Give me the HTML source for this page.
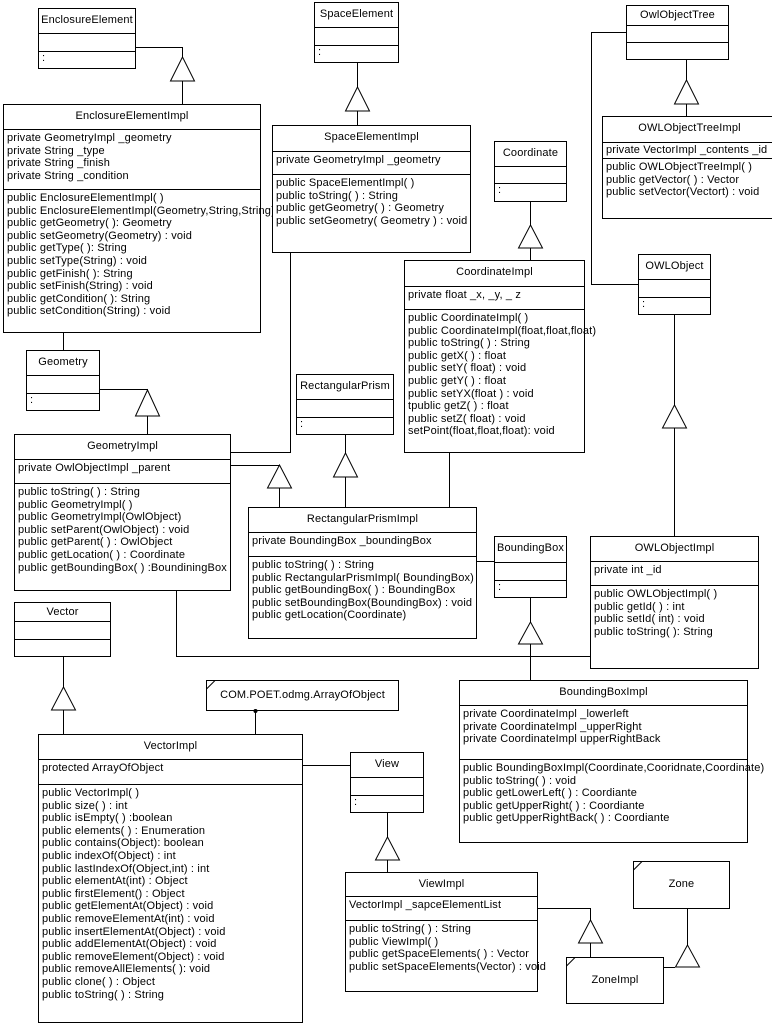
<!DOCTYPE html>
<html><head><meta charset="utf-8"><style>
html,body{margin:0;padding:0;background:#fff;}
body{width:772px;height:1024px;position:relative;overflow:hidden;font-family:"Liberation Sans",sans-serif;font-size:11px;letter-spacing:0.15px;color:#000;}
.b{position:absolute;box-sizing:border-box;border:1px solid #000;background:#fff;}
.s{position:absolute;left:0;right:0;box-sizing:border-box;white-space:nowrap;padding-left:3px;line-height:12.6px;}
.n{text-align:center;padding:5px 0 0 0;}
.t{border-top:1px solid #000;}
.nt{position:absolute;box-sizing:border-box;border:1px solid #000;background:#fff;text-align:center;white-space:nowrap;}
svg{position:absolute;left:0;top:0;}
</style></head><body>
<svg width="772" height="1024" viewBox="0 0 772 1024" fill="none" stroke="#000" stroke-width="1">
<g shape-rendering="crispEdges">
<path d="M135.5,47.5H182.5V57.5M182.5,81V104"/>
<path d="M63.5,332V350"/>
<path d="M357.5,62V87M357.5,111V125"/>
<path d="M290.5,252V452.5H230"/>
<path d="M626,32.5H591.5V284.5H638"/>
<path d="M686.5,59V80M686.5,104V116"/>
<path d="M530.5,201V225M530.5,248V260"/>
<path d="M449.5,452V507"/>
<path d="M674.5,314V405M674.5,428V536"/>
<path d="M99,389.5H147.5V390M147.5,416V434"/>
<path d="M230,465.5H279.5M279.5,488V507"/>
<path d="M345.5,434V453M345.5,477V507"/>
<path d="M476,561.5H494"/>
<path d="M176.5,590V656.5H590"/>
<path d="M530.5,597V622M530.5,644V680"/>
<path d="M63.5,656V687M63.5,710V734"/>
<path d="M255.5,710V734"/>
<path d="M302,765.5H350"/>
<path d="M387.5,812V837M387.5,860V872"/>
<path d="M537,908.5H590.5V920M590.5,943V957"/>
<path d="M687.5,908V945M663,967.5H675"/>
</g>
<g stroke-linejoin="miter">
<path d="M182.5,57L170.5,81H194.5Z"/>
<path d="M357.5,87L345.5,111H369.5Z"/>
<path d="M686.5,80L674.5,104H698.5Z"/>
<path d="M530.5,225L518.5,248H542.5Z"/>
<path d="M674.5,405L662.5,428H686.5Z"/>
<path d="M147.5,390L135.5,416H159.5Z"/>
<path d="M279.5,465L267.5,488H291.5Z"/>
<path d="M345.5,453L333.5,477H357.5Z"/>
<path d="M530.5,622L518.5,644H542.5Z"/>
<path d="M63.5,687L51.5,710H75.5Z"/>
<path d="M387.5,837L375.5,860H399.5Z"/>
<path d="M590.5,920L578.5,943H602.5Z"/>
<path d="M687.5,945L675.5,967H699.5Z"/>
</g>
</svg>

<div class="b" style="left:38px;top:8px;width:98px;height:61px">
<div class="s n" style="top:0;height:24px">EnclosureElement</div>
<div class="s t" style="top:24px;height:18px"></div>
<div class="s t" style="top:42px;height:18px">:</div>
</div>

<div class="b" style="left:3px;top:104px;width:258px;height:229px">
<div class="s n" style="top:0;height:24px">EnclosureElementImpl</div>
<div class="s t" style="top:24px;height:60px;padding-top:2px">private GeometryImpl _geometry<br>private String _type<br>private String _finish<br>private String _condition</div>
<div class="s t" style="top:84px;height:144px;padding-top:2px">public EnclosureElementImpl( )<br>public EnclosureElementImpl(Geometry,String,String)<br>public getGeometry( ): Geometry<br>public setGeometry(Geometry) :  void<br>public getType( ): String<br>public setType(String) : void<br>public getFinish( ): String<br>public setFinish(String) : void<br>public getCondition( ): String<br>public setCondition(String) : void</div>
</div>

<div class="b" style="left:314px;top:2px;width:85px;height:61px">
<div class="s n" style="top:0;height:24px">SpaceElement</div>
<div class="s t" style="top:24px;height:18px"></div>
<div class="s t" style="top:42px;height:18px">:</div>
</div>

<div class="b" style="left:272px;top:125px;width:199px;height:128px">
<div class="s n" style="top:0;height:25px">SpaceElementImpl</div>
<div class="s t" style="top:25px;height:23px;padding-top:2px">private GeometryImpl _geometry</div>
<div class="s t" style="top:48px;height:79px;padding-top:2px">public SpaceElementImpl( )<br>public toString( ) : String<br>public getGeometry( ) : Geometry<br>public setGeometry( Geometry ) : void</div>
</div>

<div class="b" style="left:626px;top:5px;width:103px;height:55px">
<div class="s n" style="top:0;height:19px;padding-top:3px">OwlObjectTree</div>
<div class="s t" style="top:19px;height:17px"></div>
<div class="s t" style="top:36px;height:18px"></div>
</div>

<div class="b" style="left:602px;top:116px;width:175px;height:103px">
<div class="s n" style="top:0;height:25px">OWLObjectTreeImpl</div>
<div class="s t" style="top:25px;height:16px;padding-top:1px">private VectorImpl _contents _id</div>
<div class="s t" style="top:41px;height:61px;padding-top:2px">public OWLObjectTreeImpl( )<br>public  getVector( ) :  Vector<br>public setVector(Vectort) : void</div>
</div>

<div class="b" style="left:494px;top:141px;width:73px;height:61px">
<div class="s n" style="top:0;height:24px">Coordinate</div>
<div class="s t" style="top:24px;height:17px"></div>
<div class="s t" style="top:41px;height:19px">:</div>
</div>

<div class="b" style="left:404px;top:260px;width:181px;height:193px">
<div class="s n" style="top:0;height:25px">CoordinateImpl</div>
<div class="s t" style="top:25px;height:23px;padding-top:2px">private float _x, _y,  _ z</div>
<div class="s t" style="top:48px;height:144px;padding-top:2px">public CoordinateImpl( )<br>public CoordinateImpl(float,float,float)<br>public toString( ) : String<br>public getX( ) : float<br>public setY( float) : void<br>public getY( ) : float<br>public setYX(float ) : void<br>tpublic getZ( ) : float<br>public setZ( float) : void<br>setPoint(float,float,float): void</div>
</div>

<div class="b" style="left:638px;top:254px;width:73px;height:61px">
<div class="s n" style="top:0;height:24px">OWLObject</div>
<div class="s t" style="top:24px;height:18px"></div>
<div class="s t" style="top:42px;height:18px">:</div>
</div>

<div class="b" style="left:26px;top:350px;width:74px;height:61px">
<div class="s n" style="top:0;height:24px">Geometry</div>
<div class="s t" style="top:24px;height:18px"></div>
<div class="s t" style="top:42px;height:18px">:</div>
</div>

<div class="b" style="left:296px;top:374px;width:98px;height:61px">
<div class="s n" style="top:0;height:24px">RectangularPrism</div>
<div class="s t" style="top:24px;height:18px"></div>
<div class="s t" style="top:42px;height:18px">:</div>
</div>

<div class="b" style="left:14px;top:434px;width:217px;height:157px">
<div class="s n" style="top:0;height:24px">GeometryImpl</div>
<div class="s t" style="top:24px;height:24px;padding-top:2px">private OwlObjectImpl _parent</div>
<div class="s t" style="top:48px;height:108px;padding-top:2px">public toString( ) : String<br>public GeometryImpl( )<br>public GeometryImpl(OwlObject)<br>public setParent(OwlObject) : void<br>public getParent( ) : OwlObject<br>public getLocation( ) : Coordinate<br>public getBoundingBox( ) :BoundiningBox</div>
</div>

<div class="b" style="left:248px;top:507px;width:229px;height:132px">
<div class="s n" style="top:0;height:24px">RectangularPrismImpl</div>
<div class="s t" style="top:24px;height:24px;padding-top:2px">private BoundingBox _boundingBox</div>
<div class="s t" style="top:48px;height:83px;padding-top:2px">public toString( ) : String<br>public RectangularPrismImpl( BoundingBox)<br>public getBoundingBox( ) : BoundingBox<br>public setBoundingBox(BoundingBox) : void<br>public getLocation(Coordinate)</div>
</div>

<div class="b" style="left:494px;top:536px;width:73px;height:62px">
<div class="s n" style="top:0;height:25px">BoundingBox</div>
<div class="s t" style="top:25px;height:18px"></div>
<div class="s t" style="top:43px;height:18px">:</div>
</div>

<div class="b" style="left:590px;top:536px;width:169px;height:133px">
<div class="s n" style="top:0;height:24px">OWLObjectImpl</div>
<div class="s t" style="top:24px;height:24px;padding-top:2px">private int _id</div>
<div class="s t" style="top:48px;height:84px;padding-top:2px">public OWLObjectImpl( )<br>public  getId( ) : int<br>public setId( int) : void<br>public toString( ): String</div>
</div>

<div class="b" style="left:14px;top:602px;width:97px;height:55px">
<div class="s n" style="top:0;height:18px;padding-top:3px">Vector</div>
<div class="s t" style="top:18px;height:18px"></div>
<div class="s t" style="top:36px;height:18px"></div>
</div>

<div class="nt" style="left:206px;top:680px;width:193px;height:31px;line-height:29px">COM.POET.odmg.ArrayOfObject</div>

<div class="b" style="left:38px;top:734px;width:265px;height:289px">
<div class="s n" style="top:0;height:24px">VectorImpl</div>
<div class="s t" style="top:24px;height:25px;padding-top:2px">protected ArrayOfObject</div>
<div class="s t" style="top:49px;height:239px;padding-top:2px">public VectorImpl( )<br>public size( ) : int<br>public isEmpty( ) :boolean<br>public elements( ) : Enumeration<br>public contains(Object): boolean<br>public indexOf(Object) : int<br>public lastIndexOf(Object,int) : int<br>public elementAt(int) : Object<br>public firstElement() : Object<br>public getElementAt(Object) : void<br>public removeElementAt(int) : void<br>public insertElementAt(Object) : void<br>public addElementAt(Object) : void<br>public removeElement(Object) : void<br>public removeAllElements( ): void<br>public clone( ) : Object<br>public toString( ) : String</div>
</div>

<div class="b" style="left:350px;top:752px;width:74px;height:61px">
<div class="s n" style="top:0;height:24px">View</div>
<div class="s t" style="top:24px;height:18px"></div>
<div class="s t" style="top:42px;height:18px">:</div>
</div>

<div class="b" style="left:459px;top:680px;width:289px;height:163px">
<div class="s n" style="top:0;height:24px">BoundingBoxImpl</div>
<div class="s t" style="top:24px;height:54px;padding-top:2px">private CoordinateImpl _lowerleft<br>private CoordinateImpl _upperRight<br>private CoordinateImpl upperRightBack</div>
<div class="s t" style="top:78px;height:84px;padding-top:2px">public BoundingBoxImpl(Coordinate,Cooridnate,Coordinate)<br>public toString( ) : void<br>public getLowerLeft( ) : Coordiante<br>public getUpperRight( ) : Coordiante<br>public getUpperRightBack( ) : Coordiante</div>
</div>

<div class="b" style="left:345px;top:872px;width:193px;height:120px">
<div class="s n" style="top:0;height:23px">ViewImpl</div>
<div class="s t" style="top:23px;height:24px;padding-top:2px">VectorImpl _sapceElementList</div>
<div class="s t" style="top:47px;height:72px;padding-top:2px">public toString( ) : String<br>public ViewImpl( )<br>public getSpaceElements( ) : Vector<br>public setSpaceElements(Vector) : void</div>
</div>

<div class="nt" style="left:633px;top:861px;width:97px;height:48px;line-height:44px">Zone</div>
<div class="nt" style="left:566px;top:957px;width:98px;height:47px;line-height:44px">ZoneImpl</div>

<svg width="772" height="1024" viewBox="0 0 772 1024" fill="none" stroke="#000" stroke-width="1">
<path d="M206.5,689L215,680.5"/>
<path d="M633.5,870L642,861.5"/>
<path d="M566.5,966L575,957.5"/>
<circle cx="255.5" cy="711" r="1.5" fill="#000"/>
</svg>
</body></html>
